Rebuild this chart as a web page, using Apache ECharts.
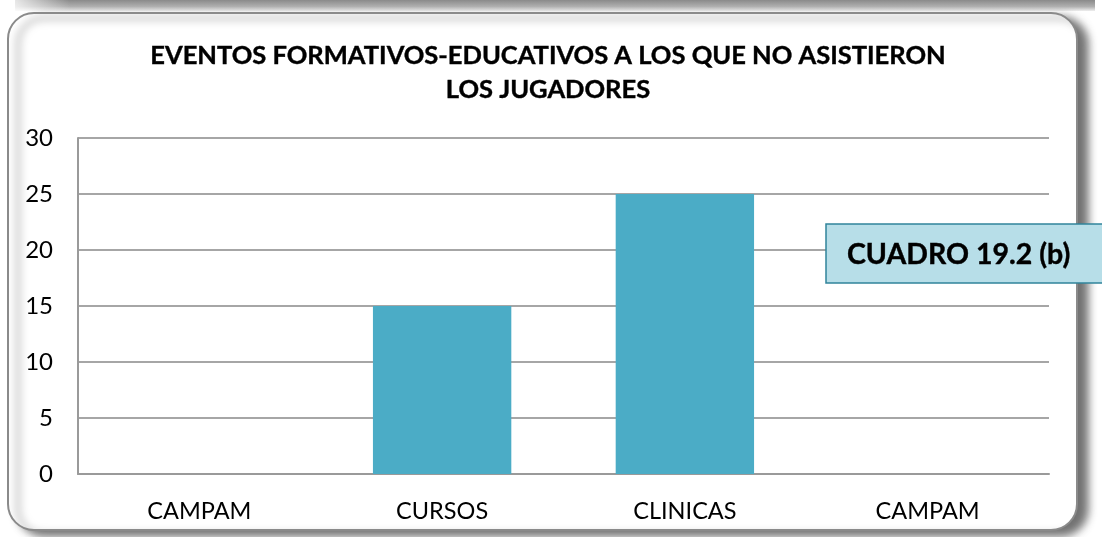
<!DOCTYPE html>
<html>
<head>
<meta charset="utf-8">
<script src="https://cdn.jsdelivr.net/npm/echarts@6/dist/echarts.min.js"></script>
<style>
  html, body { margin: 0; padding: 0; background: #ffffff; }
  #chart { width: 1102px; height: 537px; }
</style>
</head>
<body>
<div id="chart"></div>
<script>
// Event categories and the number of players who did not attend each
const categories = ['CAMPAM', 'CURSOS', 'CLINICAS', 'CAMPAM'];
const ausencias = [0, 15, 25, 0];
const yTicks = { min: 0, max: 30, step: 5 };

const titleText = 'EVENTOS FORMATIVOS-EDUCATIVOS A LOS QUE NO ASISTIERON\nLOS JUGADORES';
const boxLabel = 'CUADRO 19.2 (b)';

const FONT = 'Lato, "Open Sans", sans-serif';

const chart = echarts.init(document.getElementById('chart'), null, { renderer: 'canvas' });

chart.setOption({
  backgroundColor: '#ffffff',
  animation: false,
  title: {
    text: titleText,
    left: 543,
    top: 34,
    textAlign: 'center',
    textStyle: {
      fontFamily: FONT,
      fontWeight: 'bold',
      fontSize: 25.5,
      lineHeight: 34,
      color: '#000000',
      textBorderColor: '#000000',
      textBorderWidth: 0.4
    }
  },
  grid: { left: 78, right: 53, top: 138, bottom: 63, containLabel: false },
  xAxis: {
    type: 'category',
    data: categories,
    axisLine: { show: true, lineStyle: { color: '#9a9a9a', width: 2 } },
    axisTick: { show: false },
    axisLabel: { fontFamily: FONT, fontSize: 23.5, color: '#000000', margin: 25 }
  },
  yAxis: {
    type: 'value',
    min: yTicks.min,
    max: yTicks.max,
    interval: yTicks.step,
    axisLine: { show: true, lineStyle: { color: '#9a9a9a', width: 2 } },
    axisTick: { show: false },
    axisLabel: { fontFamily: FONT, fontSize: 24, color: '#000000', margin: 25 },
    splitLine: { show: true, lineStyle: { color: '#a6a6a6', width: 2 } }
  },
  series: [{
    type: 'bar',
    data: ausencias,
    barWidth: '57%',
    itemStyle: { color: '#4BACC6' },
    z: 3
  }],
  graphic: [
    // shadow strip from the panel above
    {
      type: 'rect',
      z: -10,
      shape: { x: 15, y: 0, width: 1080, height: 11 },
      style: {
        fill: new echarts.graphic.LinearGradient(0, 0, 0, 1, [
          { offset: 0, color: '#8a8a8a' },
          { offset: 0.6, color: '#b0b0b0' },
          { offset: 1, color: '#efefef' }
        ])
      }
    },
    {
      type: 'rect',
      z: -9,
      shape: { x: 0, y: 0, width: 70, height: 12 },
      style: {
        fill: new echarts.graphic.LinearGradient(0, 0, 1, 0, [
          { offset: 0, color: 'rgba(255,255,255,1)' },
          { offset: 1, color: 'rgba(255,255,255,0)' }
        ])
      }
    },
    // rounded chart frame with drop shadow
    {
      type: 'rect',
      z: -5,
      shape: { x: 8, y: 13, width: 1069, height: 517, r: 26 },
      style: {
        fill: '#ffffff',
        stroke: '#8a8a8a',
        lineWidth: 2,
        shadowColor: 'rgba(0,0,0,0.55)',
        shadowBlur: 8,
        shadowOffsetX: 10,
        shadowOffsetY: 5
      }
    },
    // caption box
    {
      type: 'rect',
      z: 10,
      shape: { x: 826, y: 224, width: 290, height: 59 },
      style: { fill: '#B7DEE8', stroke: '#31849B', lineWidth: 1.5 }
    },
    {
      type: 'text',
      z: 11,
      x: 847,
      y: 255,
      style: {
        text: boxLabel,
        fontFamily: FONT,
        fontWeight: 'bold',
        fontSize: 28.5,
        fill: '#000000',
        stroke: '#000000',
        lineWidth: 0.4,
        verticalAlign: 'middle'
      }
    }
  ]
});
</script>
</body>
</html>
